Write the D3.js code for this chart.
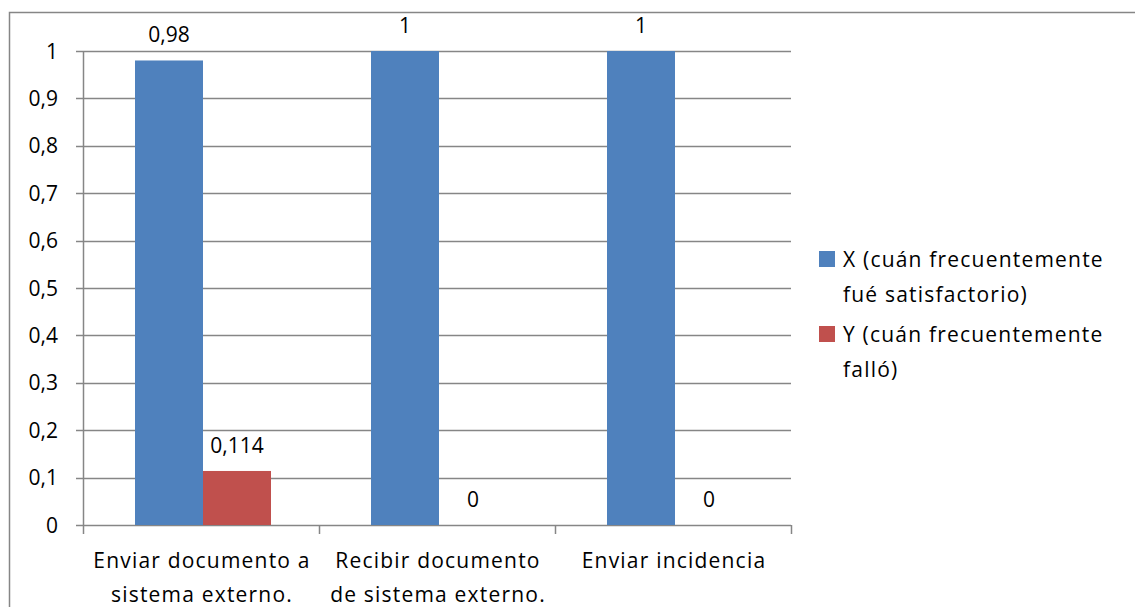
<!DOCTYPE html>
<html><head><meta charset="utf-8">
<script src="https://cdn.jsdelivr.net/npm/d3@7"></script>
<style>body{margin:0;background:#fff}svg{display:block}text{font-family:"Open Sans",sans-serif;fill:#000}</style>
</head><body>
<svg id="c" width="1135" height="607"></svg>
<script>
const categories = [["Enviar documento a","sistema externo."],["Recibir documento","de sistema externo."],["Enviar incidencia"]];
const seriesNames = [["X (cuán frecuentemente","fué satisfactorio)"],["Y (cuán frecuentemente","falló)"]];
const seriesX = [0.98, 1, 1];
const seriesY = [0.114, 0, 0];
const valueLabels = [["0,98","1","1"],["0,114","0","0"]];
const yTicks = [0,0.1,0.2,0.3,0.4,0.5,0.6,0.7,0.8,0.9,1];
const yTickLabels = ["0","0,1","0,2","0,3","0,4","0,5","0,6","0,7","0,8","0,9","1"];
const colors = ["#4F81BD","#C0504D"];

const svg = d3.select("#c");
const FS = 21, LS = 1.2;
svg.append("rect").attr("x",9.5).attr("y",12.5).attr("width",1140).attr("height",620)
  .attr("fill","none").attr("stroke","#868686").attr("stroke-width",1.5);

const L=83, R=791, T=51, B=525;
const x0 = d3.scaleBand().domain(d3.range(categories.length)).range([L,R]).paddingInner(0).paddingOuter(0);
const bw = 68, gOff = 2;
const y = d3.scaleLinear().domain([0,1]).range([B,T]);

// gridlines
svg.append("g").selectAll("line").data(yTicks).join("line")
  .attr("x1",L-7).attr("x2",R).attr("y1",d=>Math.round(y(d))+0.5).attr("y2",d=>Math.round(y(d))+0.5)
  .attr("stroke","#868686").attr("stroke-width",1.5);
svg.append("line").attr("x1",L+0.5).attr("x2",L+0.5).attr("y1",T).attr("y2",B).attr("stroke","#868686").attr("stroke-width",1.5);
svg.append("g").selectAll("line").data(d3.range(categories.length+1)).join("line")
  .attr("x1",i=>L+i*x0.bandwidth()+0.5).attr("x2",i=>L+i*x0.bandwidth()+0.5)
  .attr("y1",B).attr("y2",B+9).attr("stroke","#868686").attr("stroke-width",1.5);

svg.append("g").selectAll("text").data(yTicks).join("text")
  .attr("x",58).attr("y",d=>y(d)).attr("dy","0.36em").attr("text-anchor","end")
  .style("font-size",FS+"px").text((d,i)=>yTickLabels[i]);

const series = [seriesX, seriesY];
series.forEach((vals,s)=>{
  const g = svg.append("g");
  g.selectAll("rect").data(vals).join("rect")
    .attr("x",(d,i)=>x0(i)+x0.bandwidth()/2 - bw + s*bw + gOff)
    .attr("y",d=>y(d)).attr("width",bw).attr("height",d=>B-y(d))
    .attr("fill",colors[s]);
  g.selectAll("text").data(vals).join("text")
    .attr("x",(d,i)=>x0(i)+x0.bandwidth()/2 - bw + s*bw + bw/2 + gOff)
    .attr("y",d=>y(d)-18).attr("text-anchor","middle")
    .style("font-size",FS+"px").text((d,i)=>valueLabels[s][i]);
});

categories.forEach((lines,i)=>{
  const t = svg.append("text").attr("text-anchor","middle").style("font-size",FS+"px").style("letter-spacing",LS+"px");
  lines.forEach((ln,j)=>{
    t.append("tspan").attr("x",x0(i)+x0.bandwidth()/2+1).attr("y",568+j*34).text(ln);
  });
});

seriesNames.forEach((lines,s)=>{
  const y0 = 267 + s*75;
  svg.append("rect").attr("x",819).attr("y",y0-16).attr("width",16).attr("height",16).attr("fill",colors[s]);
  const t = svg.append("text").style("font-size",FS+"px").style("letter-spacing",LS+"px");
  lines.forEach((ln,j)=>{
    t.append("tspan").attr("x",843).attr("y",y0+j*35).text(ln);
  });
});
</script>
</body></html>
